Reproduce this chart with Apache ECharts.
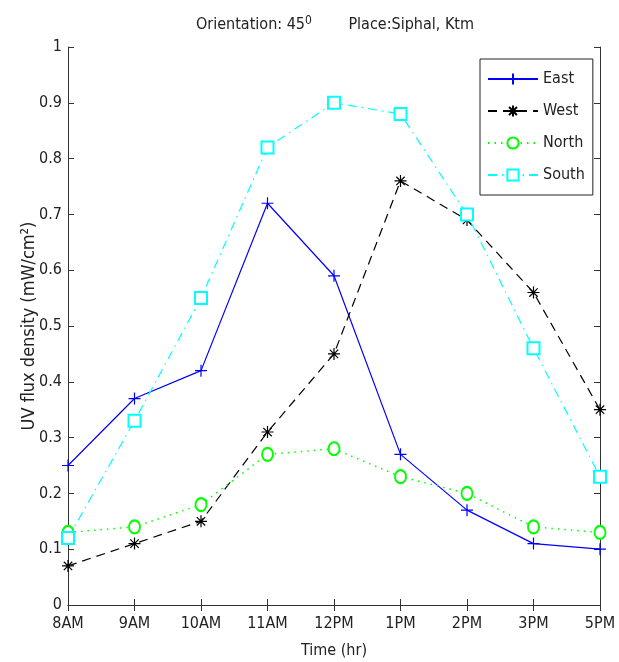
<!DOCTYPE html>
<html><head><meta charset="utf-8">
<script src="https://cdn.jsdelivr.net/npm/echarts@6/dist/echarts.min.js"></script>
<style>html,body{margin:0;padding:0;background:#fff}#c{width:619px;height:662px}</style>
</head><body><div id="c"></div>
<script>
const categories = ['8AM','9AM','10AM','11AM','12PM','1PM','2PM','3PM','5PM'];
const east  = [0.25,0.37,0.42,0.72,0.59,0.27,0.17,0.11,0.10];
const west  = [0.07,0.11,0.15,0.31,0.45,0.76,0.69,0.56,0.35];
const north = [0.13,0.14,0.18,0.27,0.28,0.23,0.20,0.14,0.13];
const south = [0.12,0.33,0.55,0.82,0.90,0.88,0.70,0.46,0.23];
const seriesNames = ['East','West','North','South'];

const FONT = "'DejaVu Sans Condensed','Liberation Sans Narrow','Arial Narrow','Liberation Sans',Arial,sans-serif";
const FS = 16;
const chart = echarts.init(document.getElementById('c'), null, {renderer:'canvas'});
const plusPath = 'path://M5,0L5,10M0,5L10,5';
const starPath = 'path://M5,0L5,10M0,5L10,5M1.5,1.5L8.5,8.5M8.5,1.5L1.5,8.5';
const axisLine = {show:true, lineStyle:{color:'#333', width:1}};
const tick = {show:true, inside:true, length:6, lineStyle:{color:'#333'}};
chart.setOption({
  animation:false,
  backgroundColor:'#fff',
  textStyle:{fontFamily:FONT},
  title:{
    text:'Orientation: 45{sup|0}        Place:Siphal, Ktm',
    left:330, top:10, textAlign:'center',
    textStyle:{fontFamily:FONT, fontSize:FS, fontWeight:'normal', color:'#222',
      rich:{sup:{fontFamily:FONT, fontSize:12, verticalAlign:'top', padding:[0,0,8,0], color:'#222'}}}
  },
  grid:{left:68, right:19, top:47, bottom:57, containLabel:false, outerBoundsMode:'none'},
  legend:{
    orient:'vertical', left:480, top:59,
    data:seriesNames,
    itemWidth:50, itemHeight:14, itemGap:16,
    padding:[12,8,12,7],
    borderColor:'#222', borderWidth:1, backgroundColor:'#fff',
    textStyle:{fontFamily:FONT, fontSize:FS, color:'#222'}
  },
  xAxis:[{
    type:'category', data:categories, boundaryGap:false,
    name:'Time (hr)', nameLocation:'middle', nameGap:38, nameMoveOverlap:false,
    nameTextStyle:{fontFamily:FONT, fontSize:FS, color:'#222'},
    axisLine:axisLine, axisTick:Object.assign({alignWithLabel:true}, tick),
    axisLabel:{fontFamily:FONT, fontSize:FS, color:'#222', margin:11, interval:0},
    splitLine:{show:false}
  },{
    type:'category', data:categories, boundaryGap:false, position:'top',
    axisLine:axisLine, axisTick:tick, axisLabel:{show:false}, splitLine:{show:false}
  }],
  yAxis:[{
    type:'value', min:0, max:1, interval:0.1,
    name:'UV flux density (mW/cm\u00B2)', nameLocation:'middle', nameGap:30, nameMoveOverlap:false,
    nameTextStyle:{fontFamily:FONT, fontSize:18, color:'#222'},
    axisLine:axisLine, axisTick:tick,
    axisLabel:{fontFamily:FONT, fontSize:FS, color:'#222', margin:6,
      formatter:v=>String(Math.round(v*10)/10)},
    splitLine:{show:false}
  },{
    type:'value', min:0, max:1, interval:0.1, position:'right',
    axisLine:axisLine, axisTick:tick, axisLabel:{show:false}, splitLine:{show:false}
  }],
  series:[
    {name:'East', type:'line', data:east, color:'#0000ff',
      symbol:plusPath, symbolSize:12, showAllSymbol:true,
      itemStyle:{color:'#0000ff', borderColor:'#0000ff', borderWidth:1.2},
      lineStyle:{color:'#0000ff', width:1.2, type:'solid'}},
    {name:'West', type:'line', data:west, color:'#000000',
      symbol:starPath, symbolSize:12, showAllSymbol:true,
      itemStyle:{color:'#000', borderColor:'#000', borderWidth:1.2},
      lineStyle:{color:'#000', width:1.2, type:[9,6]}},
    {name:'North', type:'line', data:north, color:'#00ff00',
      symbol:'emptyCircle', symbolSize:[11,13], showAllSymbol:true,
      itemStyle:{color:'#00ff00', borderColor:'#00ff00', borderWidth:1.4},
      lineStyle:{color:'#00ff00', width:1.5, type:[1.5,5]}},
    {name:'South', type:'line', data:south, color:'#00ffff',
      symbol:'emptyRect', symbolSize:12, showAllSymbol:true,
      itemStyle:{color:'#00ffff', borderColor:'#00ffff', borderWidth:1.4},
      lineStyle:{color:'#00ffff', width:1.2, type:[9,5,1.5,5]}}
  ]
});
</script></body></html>
